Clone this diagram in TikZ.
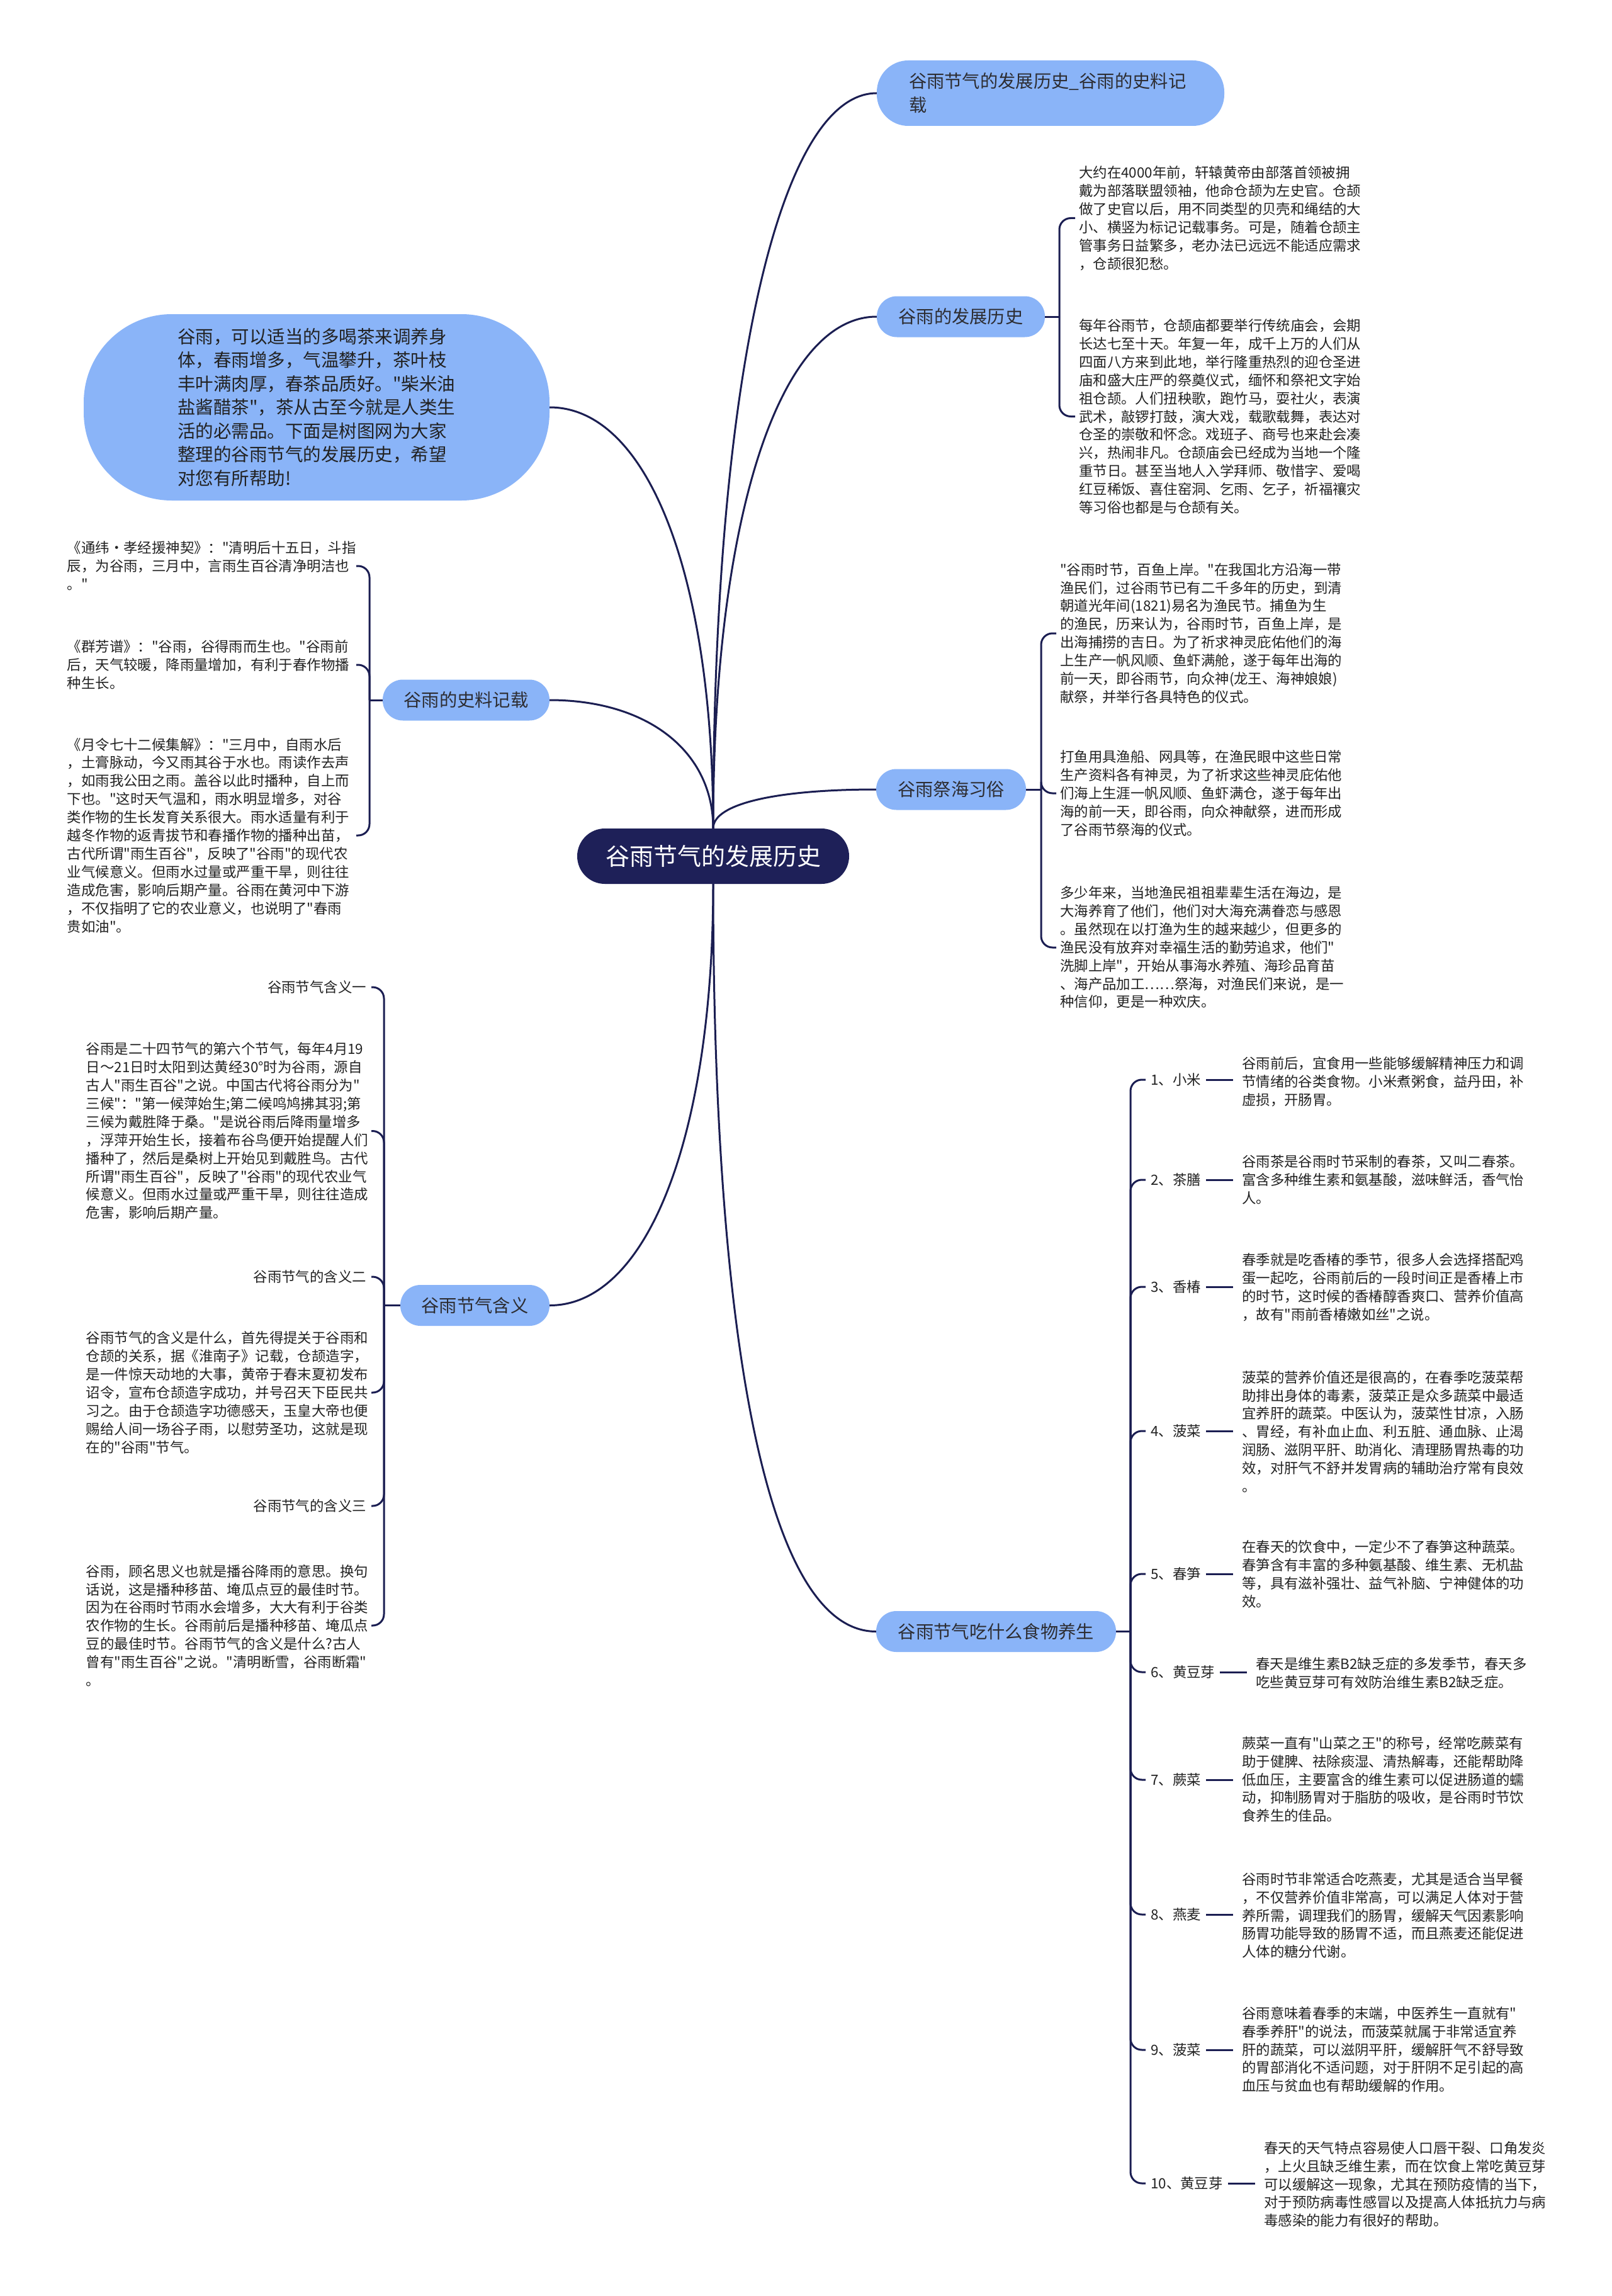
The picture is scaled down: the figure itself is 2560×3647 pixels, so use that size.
\documentclass[tikz,border=0pt]{standalone}
\usepackage{fontspec}
\setmainfont{Noto Sans CJK SC}[Ligatures=TeXOff]
\definecolor{rootc}{RGB}{30,32,88}
\definecolor{linec}{RGB}{27,30,82}
\definecolor{branchc}{RGB}{138,180,248}
\definecolor{txtc}{RGB}{34,34,34}
\definecolor{btxtc}{RGB}{45,45,50}
\begin{document}
\begin{tikzpicture}[x=1pt,y=-1pt,
  conn/.style={draw=linec,line width=3pt},
  bracket/.style={draw=linec,line width=3pt,rounded corners=18pt},
  rootbox/.style={fill=rootc,text=white,rounded corners=44pt,minimum width=432pt,minimum height=88pt,inner sep=0pt,font=\fontsize{38pt}{46pt}\selectfont},
  branchbox/.style={fill=branchc,text=btxtc,rounded corners=32pt,minimum height=65pt,inner sep=0pt,font=\fontsize{28.3pt}{38pt}\selectfont},
  introbox/.style={fill=branchc,text=txtc,rounded corners=140pt,minimum width=740pt,minimum height=296pt,text width=442pt,align=left,inner sep=0pt,font=\fontsize{28.5pt}{37.5pt}\selectfont},
  txt/.style={text=txtc,align=left,inner xsep=6pt,inner ysep=2pt,font=\fontsize{22.4pt}{28.9pt}\selectfont},
  lbl/.style={text=txtc,inner xsep=8pt,inner ysep=2pt,font=\fontsize{22.4pt}{28.9pt}\selectfont},
]
\useasboundingbox (0,0) rectangle (2560,3647);
\fill[white] (0,0) rectangle (2560,3647);

% ---------- main nodes
\node[rootbox] (root) at (1133,1360) {谷雨节气的发展历史};
\node[branchbox,minimum width=552pt,minimum height=104pt,rounded corners=50pt,text width=450pt,align=left] (b1) at (1669,148) {谷雨节气的发展历史\_谷雨的史料记\\载};
\node[branchbox,minimum width=267pt] (b2) at (1526.5,503) {谷雨的发展历史};
\node[branchbox,minimum width=265pt] (b3) at (740.5,1112) {谷雨的史料记载};
\node[branchbox,minimum width=237pt] (b4) at (754.5,2073.5) {谷雨节气含义};
\node[branchbox,minimum width=238pt] (b5) at (1511,1254) {谷雨祭海习俗};
\node[branchbox,minimum width=381pt] (b6) at (1582.5,2591.5) {谷雨节气吃什么食物养生};
\node[introbox] (intro) at (503,647) {谷雨，可以适当的多喝茶来调养身\\体，春雨增多，气温攀升，茶叶枝\\丰叶满肉厚，春茶品质好。"柴米油\\盐酱醋茶"，茶从古至今就是人类生\\活的必需品。下面是树图网为大家\\整理的谷雨节气的发展历史，希望\\对您有所帮助!};

% ---------- root connectors
\draw[conn] (root.north) .. controls +(0,-701) and +(-157,0) .. (b1.west);
\draw[conn] (root.north) .. controls +(0,-488) and +(-156,0) .. (b2.west);
\draw[conn] (root.north) .. controls +(0,-40) and +(-155,0) .. (b5.west);
\draw[conn] (root.north) .. controls +(0,-123) and +(155,0) .. (b3.east);
\draw[conn] (root.north) .. controls +(0,-401) and +(156,0) .. (intro.east);
\draw[conn] (root.south) .. controls +(0,401) and +(155,0) .. (b4.east);
\draw[conn] (root.south) .. controls +(0,640) and +(-190,0) .. (b6.west);

% ---------- 谷雨的发展历史
\node[txt,text width=450pt,anchor=west] (t21) at (1708,346.5) {大约在4000年前，轩辕黄帝由部落首领被拥\\戴为部落联盟领袖，他命仓颉为左史官。仓颉\\做了史官以后，用不同类型的贝壳和绳结的大\\小、横竖为标记记载事务。可是，随着仓颉主\\管事务日益繁多，老办法已远远不能适应需求\\，仓颉很犯愁。};
\node[txt,text width=450pt,anchor=west] (t22) at (1708,661.5) {每年谷雨节，仓颉庙都要举行传统庙会，会期\\长达七至十天。年复一年，成千上万的人们从\\四面八方来到此地，举行隆重热烈的迎仓圣进\\庙和盛大庄严的祭奠仪式，缅怀和祭祀文字始\\祖仓颉。人们扭秧歌，跑竹马，耍社火，表演\\武术，敲锣打鼓，演大戏，载歌载舞，表达对\\仓圣的崇敬和怀念。戏班子、商号也来赴会凑\\兴，热闹非凡。仓颉庙会已经成为当地一个隆\\重节日。甚至当地人入学拜师、敬惜字、爱喝\\红豆稀饭、喜住窑洞、乞雨、乞子，祈福禳灾\\等习俗也都是与仓颉有关。};
\coordinate (j2) at (1683,503);
\draw[conn] (b2.east) -- (j2);
\draw[bracket] (j2) |- (t21.west);
\draw[bracket] (j2) |- (t22.west);

% ---------- 谷雨祭海习俗
\node[txt,text width=450pt,anchor=west] (s1) at (1678,1006) {"谷雨时节，百鱼上岸。"在我国北方沿海一带\\渔民们，过谷雨节已有二千多年的历史，到清\\朝道光年间(1821)易名为渔民节。捕鱼为生\\的渔民，历来认为，谷雨时节，百鱼上岸，是\\出海捕捞的吉日。为了祈求神灵庇佑他们的海\\上生产一帆风顺、鱼虾满舱，遂于每年出海的\\前一天，即谷雨节，向众神(龙王、海神娘娘)\\献祭，并举行各具特色的仪式。};
\node[txt,text width=450pt,anchor=west] (s2) at (1678,1260) {打鱼用具渔船、网具等，在渔民眼中这些日常\\生产资料各有神灵，为了祈求这些神灵庇佑他\\们海上生涯一帆风顺、鱼虾满仓，遂于每年出\\海的前一天，即谷雨，向众神献祭，进而形成\\了谷雨节祭海的仪式。};
\node[txt,text width=450pt,anchor=west] (s3) at (1678,1505) {多少年来，当地渔民祖祖辈辈生活在海边，是\\大海养育了他们，他们对大海充满眷恋与感恩\\。虽然现在以打渔为生的越来越少，但更多的\\渔民没有放弃对幸福生活的勤劳追求，他们"\\洗脚上岸"，开始从事海水养殖、海珍品育苗\\、海产品加工……祭海，对渔民们来说，是一\\种信仰，更是一种欢庆。};
\coordinate (j5) at (1654,1254);
\draw[conn] (b5.east) -- (j5);
\draw[bracket] (j5) |- (s1.west);
\draw[bracket] (j5) |- (s2.west);
\draw[bracket] (j5) |- (s3.west);

% ---------- 谷雨的史料记载
\node[txt,text width=453pt,anchor=east] (l1) at (566,899) {《通纬·孝经援神契》："清明后十五日，斗指\\辰，为谷雨，三月中，言雨生百谷清净明洁也\\。"};
\node[txt,text width=453pt,anchor=east] (l2) at (566,1056) {《群芳谱》："谷雨，谷得雨而生也。"谷雨前\\后，天气较暖，降雨量增加，有利于春作物播\\种生长。};
\node[txt,text width=453pt,anchor=east] (l3) at (566,1327) {《月令七十二候集解》："三月中，自雨水后\\，土膏脉动，今又雨其谷于水也。雨读作去声\\，如雨我公田之雨。盖谷以此时播种，自上而\\下也。"这时天气温和，雨水明显增多，对谷\\类作物的生长发育关系很大。雨水适量有利于\\越冬作物的返青拔节和春播作物的播种出苗，\\古代所谓"雨生百谷"，反映了"谷雨"的现代农\\业气候意义。但雨水过量或严重干旱，则往往\\造成危害，影响后期产量。谷雨在黄河中下游\\，不仅指明了它的农业意义，也说明了"春雨\\贵如油"。};
\coordinate (j3) at (587,1112);
\draw[conn] (b3.west) -- (j3);
\draw[bracket] (j3) |- (l1.east);
\draw[bracket] (j3) |- (l2.east);
\draw[bracket] (j3) |- (l3.east);

% ---------- 谷雨节气含义
\node[lbl,anchor=east] (k1) at (590,1568) {谷雨节气含义一};
\node[txt,text width=447pt,anchor=east] (k2) at (590,1796.5) {谷雨是二十四节气的第六个节气，每年4月19\\日～21日时太阳到达黄经30°时为谷雨，源自\\古人"雨生百谷"之说。中国古代将谷雨分为"\\三候"："第一候萍始生;第二候鸣鸠拂其羽;第\\三候为戴胜降于桑。"是说谷雨后降雨量增多\\，浮萍开始生长，接着布谷鸟便开始提醒人们\\播种了，然后是桑树上开始见到戴胜鸟。古代\\所谓"雨生百谷"，反映了"谷雨"的现代农业气\\候意义。但雨水过量或严重干旱，则往往造成\\危害，影响后期产量。};
\node[lbl,anchor=east] (k3) at (590,2028) {谷雨节气的含义二};
\node[txt,text width=447pt,anchor=east] (k4) at (590,2212) {谷雨节气的含义是什么，首先得提关于谷雨和\\仓颉的关系，据《淮南子》记载，仓颉造字，\\是一件惊天动地的大事，黄帝于春末夏初发布\\诏令，宣布仓颉造字成功，并号召天下臣民共\\习之。由于仓颉造字功德感天，玉皇大帝也便\\赐给人间一场谷子雨，以慰劳圣功，这就是现\\在的"谷雨"节气。};
\node[lbl,anchor=east] (k5) at (590,2392) {谷雨节气的含义三};
\node[txt,text width=447pt,anchor=east] (k6) at (590,2582) {谷雨，顾名思义也就是播谷降雨的意思。换句\\话说，这是播种移苗、埯瓜点豆的最佳时节。\\因为在谷雨时节雨水会增多，大大有利于谷类\\农作物的生长。谷雨前后是播种移苗、埯瓜点\\豆的最佳时节。谷雨节气的含义是什么?古人\\曾有"雨生百谷"之说。"清明断雪，谷雨断霜"\\。};
\coordinate (j4) at (610,2073.5);
\draw[conn] (b4.west) -- (j4);
\foreach \k in {k1,k2,k3,k4,k5,k6} { \draw[bracket] (j4) |- (\k.east); }

% ---------- 谷雨节气吃什么食物养生
\node[lbl,anchor=west] (f1) at (1820,1715) {1、小米};
\node[lbl,anchor=west] (f2) at (1820,1874) {2、茶膳};
\node[lbl,anchor=west] (f3) at (1820,2044) {3、香椿};
\node[lbl,anchor=west] (f4) at (1820,2273) {4、菠菜};
\node[lbl,anchor=west] (f5) at (1820,2500) {5、春笋};
\node[lbl,anchor=west] (f6) at (1820,2656) {6、黄豆芽};
\node[lbl,anchor=west] (f7) at (1820,2827) {7、蕨菜};
\node[lbl,anchor=west] (f8) at (1820,3041) {8、燕麦};
\node[lbl,anchor=west] (f9) at (1820,3256) {9、菠菜};
\node[lbl,anchor=west] (f10) at (1820,3468) {10、黄豆芽};

\node[txt,text width=455pt,anchor=west] (g1) at (1967,1718) {谷雨前后，宜食用一些能够缓解精神压力和调\\节情绪的谷类食物。小米煮粥食，益丹田，补\\虚损，开肠胃。};
\node[txt,text width=455pt,anchor=west] (g2) at (1967,1874) {谷雨茶是谷雨时节采制的春茶，又叫二春茶。\\富含多种维生素和氨基酸，滋味鲜活，香气怡\\人。};
\node[txt,text width=455pt,anchor=west] (g3) at (1967,2044.5) {春季就是吃香椿的季节，很多人会选择搭配鸡\\蛋一起吃，谷雨前后的一段时间正是香椿上市\\的时节，这时候的香椿醇香爽口、营养价值高\\，故有"雨前香椿嫩如丝"之说。};
\node[txt,text width=455pt,anchor=west] (g4) at (1967,2274) {菠菜的营养价值还是很高的，在春季吃菠菜帮\\助排出身体的毒素，菠菜正是众多蔬菜中最适\\宜养肝的蔬菜。中医认为，菠菜性甘凉，入肠\\、胃经，有补血止血、利五脏、通血脉、止渴\\润肠、滋阴平肝、助消化、清理肠胃热毒的功\\效，对肝气不舒并发胃病的辅助治疗常有良效\\。};
\node[txt,text width=455pt,anchor=west] (g5) at (1967,2500.5) {在春天的饮食中，一定少不了春笋这种蔬菜。\\春笋含有丰富的多种氨基酸、维生素、无机盐\\等，具有滋补强壮、益气补脑、宁神健体的功\\效。};
\node[txt,text width=455pt,anchor=west] (g6) at (1989,2657.5) {春天是维生素B2缺乏症的多发季节，春天多\\吃些黄豆芽可有效防治维生素B2缺乏症。};
\node[txt,text width=455pt,anchor=west] (g7) at (1967,2826.5) {蕨菜一直有"山菜之王"的称号，经常吃蕨菜有\\助于健脾、祛除痰湿、清热解毒，还能帮助降\\低血压，主要富含的维生素可以促进肠道的蠕\\动，抑制肠胃对于脂肪的吸收，是谷雨时节饮\\食养生的佳品。};
\node[txt,text width=455pt,anchor=west] (g8) at (1967,3042.5) {谷雨时节非常适合吃燕麦，尤其是适合当早餐\\，不仅营养价值非常高，可以满足人体对于营\\养所需，调理我们的肠胃，缓解天气因素影响\\肠胃功能导致的肠胃不适，而且燕麦还能促进\\人体的糖分代谢。};
\node[txt,text width=455pt,anchor=west] (g9) at (1967,3255.5) {谷雨意味着春季的末端，中医养生一直就有"\\春季养肝"的说法，而菠菜就属于非常适宜养\\肝的蔬菜，可以滋阴平肝，缓解肝气不舒导致\\的胃部消化不适问题，对于肝阴不足引起的高\\血压与贫血也有帮助缓解的作用。};
\node[txt,text width=455pt,anchor=west] (g10) at (2002,3469.5) {春天的天气特点容易使人口唇干裂、口角发炎\\，上火且缺乏维生素，而在饮食上常吃黄豆芽\\可以缓解这一现象，尤其在预防疫情的当下，\\对于预防病毒性感冒以及提高人体抵抗力与病\\毒感染的能力有很好的帮助。};

\coordinate (j6) at (1796,2591.5);
\draw[conn] (b6.east) -- (j6);
\foreach \f in {f1,f2,f3,f4,f5,f6,f7,f8,f9,f10} { \draw[bracket] (j6) |- (\f.west); }
\foreach \f/\g in {f1/g1,f2/g2,f3/g3,f4/g4,f5/g5,f6/g6,f7/g7,f8/g8,f9/g9,f10/g10} { \draw[conn,shorten >=8pt] (\f.east) -- (\f.east -| \g.west); }

\end{tikzpicture}
\end{document}
